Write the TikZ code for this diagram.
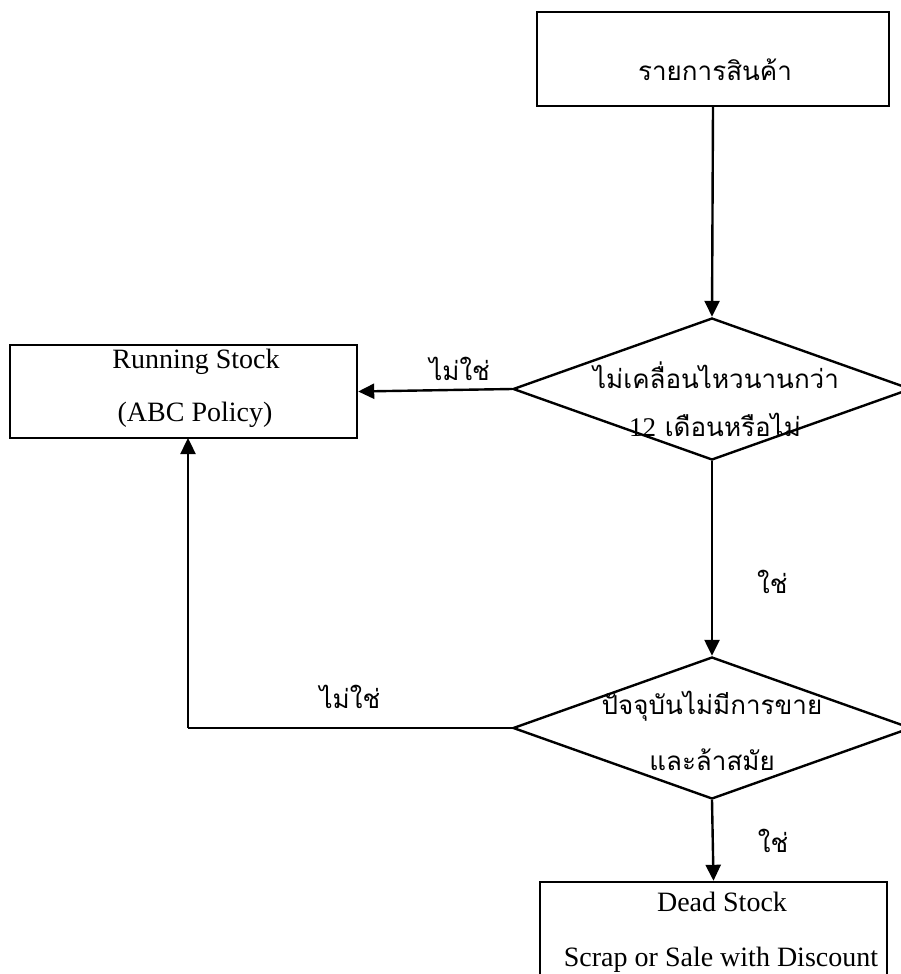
\documentclass[tikz,border=0pt]{standalone}
\usepackage{fontspec}
\setmainfont{Liberation Serif}
\newfontfamily\thaifont[Script=Thai]{Loma}
\usetikzlibrary{arrows.meta,shapes.geometric}
\tikzset{
  box/.style={draw,line width=2.4pt,rectangle,inner sep=0pt},
  dia/.style={draw,line width=2.4pt,diamond,inner sep=0pt,aspect=2.8},
  conn/.style={line width=2.4pt,-{Triangle[length=16pt,width=15pt]}},
  plain/.style={line width=2.4pt},
  lat/.style={font=\fontsize{28}{30}\selectfont,inner sep=0pt},
  th/.style={font=\fontsize{26}{30}\thaifont,inner sep=0pt}
}
\begin{document}
\begin{tikzpicture}[x=1pt,y=-1pt]
\useasboundingbox (0,0) rectangle (900,974);
% boxes
\node[box,minimum width=352pt,minimum height=94pt] (top) at (713,59) {};
\node[th] (topt) at (715,70) {รายการสินค้า};
\node[box,minimum width=347pt,minimum height=93pt] (rs) at (183.5,391.5) {};
\node[lat] (rs1) at (196,362) {Running Stock};
\node[lat] (rs2) at (195,415) {(ABC Policy)};
\node[dia,minimum width=398pt,minimum height=142pt] (d1) at (712,389) {};
\node[th] (d1a) at (716,375) {ไม่เคลื่อนไหวนานกว่า};
\node[th] (d1b) at (715,425) {{\fontsize{27}{28}\selectfont\rmfamily 12} เดือนหรือไม่};
\node[dia,minimum width=398pt,minimum height=142pt] (d2) at (712,728) {};
\node[th] (d2a) at (712,706) {ปัจจุบันไม่มีการขาย};
\node[th] (d2b) at (712,760) {และล้าสมัย};
\node[box,minimum width=347pt,minimum height=140pt] (ds) at (713.5,952) {};
\node[lat] (ds1) at (722,902) {Dead Stock};
\node[lat] (ds2) at (721,960) {Scrap or Sale with Discount};
% connectors
\draw[conn] (top.south) -- (d1.north);
\draw[conn] (d1.west) -- (rs.east) node[th,pos=0.34,above=8pt] (l1) {ไม่ใช่};
\draw[conn] (d1.south) -- (d2.north) node[th,pos=0.62,right=44pt] (l2) {ใช่};
\coordinate (c1) at (188,728);
\draw[plain] (d2.west) -- (c1) node[th,pos=0.5,above=18pt] (l3) {ไม่ใช่};
\draw[conn] (c1) -- (188,438);
\draw[conn] (d2.south) -- (ds.north) node[th,pos=0.5,right=44pt] (l4) {ใช่};
\end{tikzpicture}
\end{document}
